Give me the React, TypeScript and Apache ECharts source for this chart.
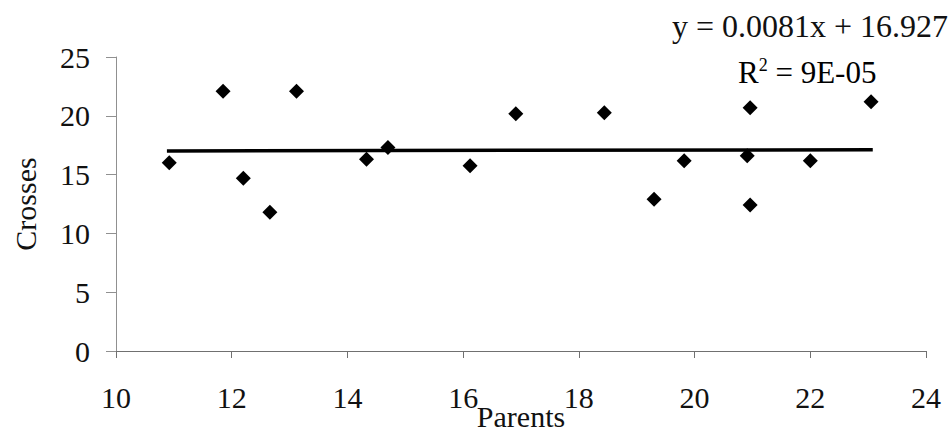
import React, { useEffect, useRef } from "react";
import * as echarts from "echarts";

const parents = [10.92, 11.85, 12.2, 12.66, 13.12, 14.33, 14.7, 16.12, 16.91, 18.44, 19.3, 19.82, 20.96, 20.91, 20.96, 22.0, 23.05];
const crosses = [16.0, 22.08, 14.68, 11.79, 22.08, 16.3, 17.3, 15.76, 20.18, 20.26, 12.9, 16.18, 20.69, 16.6, 12.41, 16.18, 21.2];
const slope = 0.0081;
const intercept = 16.927;
const trendX = [10.88, 23.08];
const xTicks = [10, 12, 14, 16, 18, 20, 22, 24];
const yTicks = [0, 5, 10, 15, 20, 25];

const FONT = "'Liberation Serif', 'Times New Roman', serif";
const INK = "#111";

export default function App() {
  const ref = useRef<HTMLDivElement>(null);
  useEffect(() => {
    if (!ref.current) return;
    const chart = echarts.init(ref.current, null, { renderer: "svg" });
    const points = parents.map((x, i) => [x, crosses[i]]);
    const trend = trendX.map((x) => [x, slope * x + intercept]);
    chart.setOption({
      animation: false,
      backgroundColor: "#ffffff",
      textStyle: { fontFamily: FONT },
      grid: { left: 116, right: 24, top: 57, bottom: 85, containLabel: false, outerBoundsMode: "none" },
      xAxis: {
        type: "value",
        min: xTicks[0],
        max: xTicks[xTicks.length - 1],
        interval: 2,
        name: "Parents",
        nameLocation: "middle",
        nameGap: 50,
        nameMoveOverlap: false,
        nameTextStyle: { fontFamily: FONT, fontSize: 30, color: INK },
        axisLine: { show: true, lineStyle: { color: "#707070", width: 1.2 } },
        axisTick: { show: true, length: 7, lineStyle: { color: "#707070" } },
        axisLabel: { fontFamily: FONT, fontSize: 30, color: INK, margin: 31 },
        splitLine: { show: false },
      },
      yAxis: {
        type: "value",
        min: yTicks[0],
        max: yTicks[yTicks.length - 1],
        interval: 5,
        name: "Crosses",
        nameLocation: "middle",
        nameGap: 76,
        nameMoveOverlap: false,
        nameRotate: 90,
        nameTextStyle: { fontFamily: FONT, fontSize: 30, color: INK },
        axisLine: { show: true, lineStyle: { color: "#909090", width: 1 } },
        axisTick: { show: true, length: 10, lineStyle: { color: "#909090" } },
        axisLabel: { fontFamily: FONT, fontSize: 30, color: INK, margin: 26 },
        splitLine: { show: false },
      },
      graphic: [
        {
          type: "text",
          left: 672,
          top: 10,
          style: {
            text: "y = 0.0081x + 16.927",
            fontFamily: FONT,
            fontSize: 32,
            fill: INK,
          },
        },
        {
          type: "text",
          left: 738,
          top: 56,
          style: {
            text: "{a|R}{s|2}{a| = 9E-05}",
            rich: {
              a: { fontFamily: FONT, fontSize: 31, color: INK, verticalAlign: "bottom" },
              s: { fontFamily: FONT, fontSize: 18, color: INK, verticalAlign: "top", padding: [0, 0, 14, 0] },
            },
          },
        },
      ],
      series: [
        {
          type: "line",
          data: trend,
          symbol: "none",
          lineStyle: { color: "#000", width: 3.5 },
          z: 1,
        },
        {
          type: "scatter",
          data: points,
          symbol: "diamond",
          symbolSize: 15,
          itemStyle: { color: "#000", opacity: 1 },
          z: 2,
        },
      ],
    });
    return () => chart.dispose();
  }, []);
  return (
    <div
      ref={ref}
      style={{ position: "fixed", left: 0, top: 0, width: 950, height: 436 }}
    />
  );
}
